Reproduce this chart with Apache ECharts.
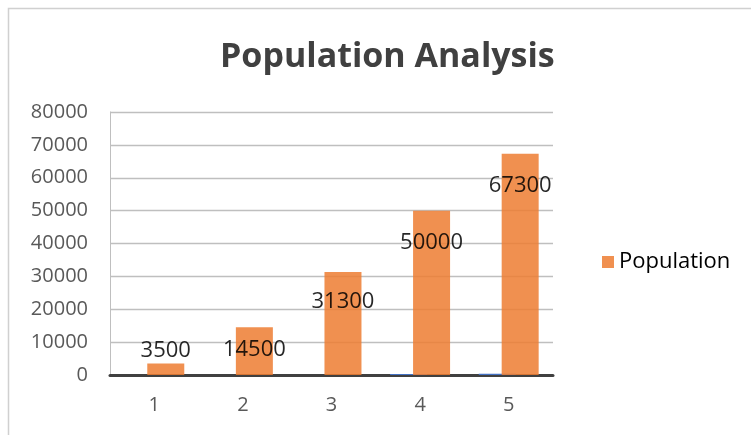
<!DOCTYPE html>
<html><head><meta charset="utf-8">
<script src="https://cdn.jsdelivr.net/npm/echarts@6/dist/echarts.min.js"></script>
<style>html,body{margin:0;padding:0;background:#fff}#c{width:751px;height:435px}</style>
</head><body><div id="c"></div>
<script>
const categories = ['1','2','3','4','5'];
const population = [3500, 14500, 31300, 50000, 67300];
const yearSeries = [0, 0, 0, 300, 400];
const labelOffsetY = [3, 38, 46, 48, 48];

const chart = echarts.init(document.getElementById('c'));
const font = '"Open Sans", "Liberation Sans", sans-serif';
chart.setOption({
  animation: false,
  title: {
    text: 'Population Analysis', left: 215, top: 35,
    textStyle: { fontFamily: font, fontSize: 34, fontWeight: 'bold', color: '#404040' }
  },
  legend: {
    data: ['Population'], left: 597, top: 246, orient: 'vertical',
    itemWidth: 12, itemHeight: 12, itemGap: 8, icon: 'rect',
    textStyle: { fontFamily: font, fontSize: 22, color: '#000' }
  },
  graphic: [{
    type: 'rect', shape: { x: 8.5, y: 8.5, width: 760, height: 440 },
    style: { fill: 'none', stroke: '#d0d0d0', lineWidth: 1.5 }, silent: true, z: -1
  }],
  grid: { left: 110, right: 198, top: 112, bottom: 60 },
  xAxis: {
    type: 'category', data: categories,
    axisLine: { lineStyle: { color: '#404040', width: 3 } },
    axisTick: { show: false },
    axisLabel: { fontFamily: font, fontSize: 20, color: '#595959', margin: 20 }
  },
  yAxis: {
    type: 'value', min: 0, max: 80000, interval: 10000,
    axisLine: { show: true, lineStyle: { color: '#bfbfbf', width: 1 } },
    splitLine: { lineStyle: { color: '#bfbfbf', width: 1.3 } },
    axisLabel: { fontFamily: font, fontSize: 20, color: '#595959', margin: 22,
      formatter: v => String(v) }
  },
  series: [
    {
      name: 'Year', type: 'bar', data: yearSeries, barWidth: 37, barGap: '-38%',
      itemStyle: { color: '#4472c4' }
    },
    {
      name: 'Population', type: 'bar', barWidth: 37,
      data: population.map((v, i) => ({
        value: v,
        label: { offset: [0, labelOffsetY[i]] }
      })),
      itemStyle: { color: '#ed7d31', opacity: 0.85 },
      label: {
        show: true, position: 'top', fontFamily: font, fontSize: 22, color: '#000'
      }
    }
  ]
});
</script></body></html>
